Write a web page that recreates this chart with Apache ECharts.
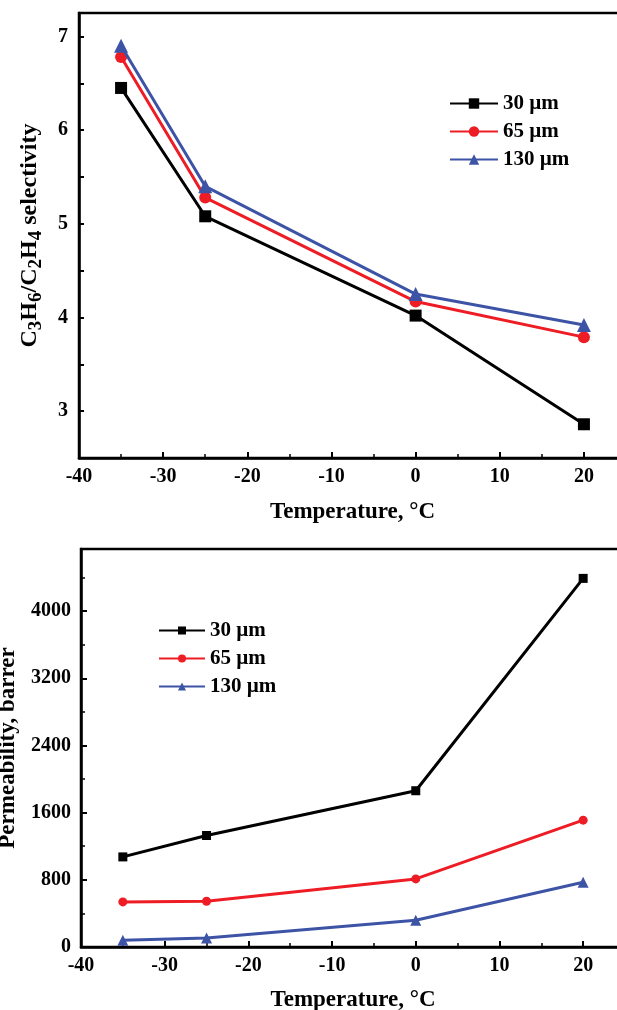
<!DOCTYPE html>
<html>
<head>
<meta charset="utf-8">
<script src="https://cdn.jsdelivr.net/npm/echarts@6/dist/echarts.min.js"></script>
<style>
  html, body { margin: 0; padding: 0; background: #fff; }
  #chart { width: 617px; height: 1010px; }
</style>
</head>
<body>
<div id="chart"></div>
<script>
// temperatures (°C)
const temps = [-35, -25, 0, 20];
const seriesNames = ['30 µm', '65 µm', '130 µm'];

// C3H6/C2H4 selectivity
const sel30 = [6.45, 5.08, 4.02, 2.86];
const sel65 = [6.78, 5.28, 4.17, 3.79];
const sel130 = [6.90, 5.40, 4.25, 3.92];

// permeability, barrer
const perm30 = [1073, 1328, 1861, 4390];
const perm65 = [537, 545, 811, 1511];
const perm130 = [80, 107, 318, 771];

// tick labels
const xTickLabels = [-40, -30, -20, -10, 0, 10, 20];
const selTickLabels = [3, 4, 5, 6, 7];
const permTickLabels = [0, 800, 1600, 2400, 3200, 4000];

const colors = ['#000000', '#ee1c24', '#3d54a6'];
const symbols = ['rect', 'circle', 'triangle'];
const font = "'Liberation Serif', 'Times New Roman', serif";

const pairs = arr => temps.map((t, i) => [t, arr[i]]);

const chart = echarts.init(document.getElementById('chart'));

const axisCommon = {
    axisLine: { onZero: false, lineStyle: { color: '#000', width: 2.5 } },
    axisTick: { inside: true, length: 6, lineStyle: { color: '#000', width: 2 } },
    minorTick: { show: true, splitNumber: 2, length: 4, lineStyle: { color: '#000', width: 1.5 } },
    splitLine: { show: false },
    nameTextStyle: { fontFamily: font, fontWeight: 'bold', fontSize: 23, color: '#000' }
};

function xAxis(gridIndex, gap) {
    return Object.assign({}, axisCommon, {
        type: 'value',
        gridIndex: gridIndex,
        min: -40,
        max: 25,
        interval: 10,
        name: 'Temperature, °C',
        nameLocation: 'middle',
        nameGap: gap,
        axisLabel: {
            margin: 9,
            fontFamily: font, fontWeight: 'bold', fontSize: 20, color: '#000',
            formatter: v => xTickLabels.indexOf(v) >= 0 ? String(v) : ''
        }
    });
}

const selData = [sel30, sel65, sel130];
const permData = [perm30, perm65, perm130];

let series = [];
selData.forEach((d, i) => {
    series.push({
        name: seriesNames[i],
        type: 'line',
        xAxisIndex: 0, yAxisIndex: 0,
        data: pairs(d),
        symbol: symbols[i],
        symbolSize: i === 2 ? 14 : 12,
        lineStyle: { color: colors[i], width: 3 },
        itemStyle: { color: colors[i] },
        z: 3 + i
    });
});
permData.forEach((d, i) => {
    series.push({
        name: seriesNames[i],
        type: 'line',
        xAxisIndex: 1, yAxisIndex: 1,
        data: pairs(d),
        symbol: symbols[i],
        symbolSize: i === 2 ? 11 : 9,
        lineStyle: { color: colors[i], width: 3 },
        itemStyle: { color: colors[i] },
        z: 3 + i
    });
});

const legendText = { fontFamily: font, fontWeight: 'bold', fontSize: 21, color: '#000', lineHeight: 20 };

let option = {
    backgroundColor: '#fff',
    animation: false,
    grid: [
        { left: 79, top: 13, right: -9, height: 445, outerBoundsMode: 'none', containLabel: false,
          show: true, borderColor: '#000', borderWidth: 2.5 },
        { left: 81, top: 549, right: -8, height: 398, outerBoundsMode: 'none', containLabel: false,
          show: true, borderColor: '#000', borderWidth: 2.5 }
    ],
    legend: [
        {
            data: seriesNames,
            orient: 'vertical',
            left: 444, top: 88,
            itemWidth: 48, itemHeight: 13, itemGap: 7,
            textStyle: legendText
        },
        {
            data: seriesNames,
            orient: 'vertical',
            left: 153, top: 615,
            itemWidth: 46, itemHeight: 10, itemGap: 7,
            textStyle: legendText
        }
    ],
    xAxis: [xAxis(0, 43), xAxis(1, 42)],
    yAxis: [
        Object.assign({}, axisCommon, {
            type: 'value',
            gridIndex: 0,
            min: 2.5,
            max: 7.25,
            interval: 0.5,
            minorTick: { show: false },
            axisTick: { inside: true, length: 5, lineStyle: { color: '#000', width: 2 } },
            name: '{n|C}{s|3}{n|H}{s|6}{n|/C}{s|2}{n|H}{s|4}{n| selectivity}',
            nameLocation: 'middle',
            nameGap: 33,
            nameTextStyle: {
                rich: {
                    n: { fontFamily: font, fontWeight: 'bold', fontSize: 24, color: '#000', lineHeight: 32, verticalAlign: 'middle' },
                    s: { fontFamily: font, fontWeight: 'bold', fontSize: 19, color: '#000', lineHeight: 19, verticalAlign: 'bottom' }
                }
            },
            axisLabel: {
                margin: 11,
                fontFamily: font, fontWeight: 'bold', fontSize: 20, color: '#000',
                formatter: v => selTickLabels.indexOf(v) >= 0 ? String(v) : ''
            }
        }),
        Object.assign({}, axisCommon, {
            type: 'value',
            gridIndex: 1,
            min: 0,
            max: 4740,
            interval: 800,
            name: 'Permeability, barrer',
            nameLocation: 'middle',
            nameGap: 61,
            axisLabel: {
                margin: 10,
                fontFamily: font, fontWeight: 'bold', fontSize: 20, color: '#000',
                formatter: v => permTickLabels.indexOf(v) >= 0 ? String(v) : ''
            }
        })
    ],
    series: series
};

chart.setOption(option);
</script>
</body>
</html>
